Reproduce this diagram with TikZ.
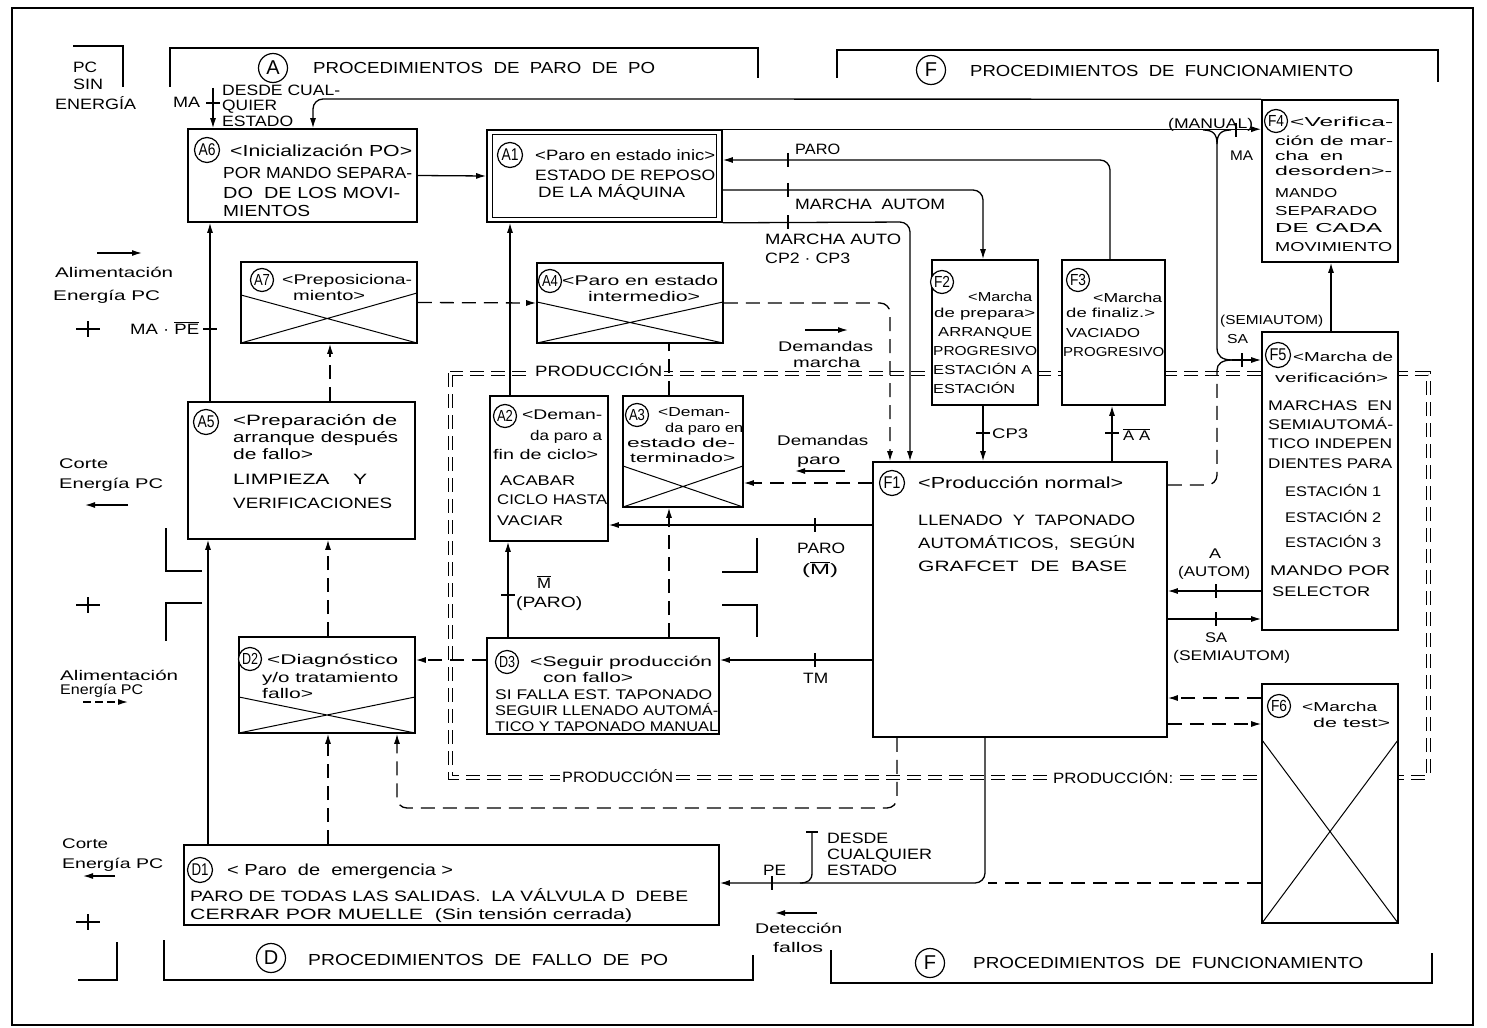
\documentclass[tikz,border=0pt]{standalone}
\usepackage{fontspec}
\setmainfont{Liberation Sans}
\usepackage{graphicx}
\usetikzlibrary{arrows.meta,fit}
\newcounter{tn}
\newcommand\tw[2]{\resizebox{#1pt}{\height}{#2}}
\newcommand\T[5]{\stepcounter{tn}\node[txt,font=\fontsize{#3}{#3}\selectfont] (t\arabic{tn}) at (#1,{#2+0.36*#3}) {\tw{#4}{#5}};}
\newcommand\PT[5]{\stepcounter{tn}\node[txt,fill=white,inner sep=2pt,font=\fontsize{#3}{#3}\selectfont] (t\arabic{tn}) at (#1,{#2+0.36*#3}) {\tw{#4}{#5}};}
\newcommand\C[6]{\node[circ,minimum size=#3pt,font=\fontsize{#4}{#4}\selectfont] (#5) at (#1,#2) {#6};}
\newcommand\tickv[2]{\draw[conn] (#1,#2-7) -- (#1,#2+7);}
\newcommand\tickh[2]{\draw[conn] (#1-7,#2) -- (#1+7,#2);}
\newcommand\plus[2]{\draw[brk] (#1-12,#2) -- (#1+12,#2) (#1,#2-8) -- (#1,#2+8);}
\tikzset{
 rect/.style={draw,line width=1.6pt,fill=white,inner sep=0pt},
 conn/.style={line width=1.3pt},
 arr/.style={-{Latex[length=10pt,width=6pt]}},
 dsh/.style={dash pattern=on 14pt off 8pt},
 txt/.style={inner sep=0pt,anchor=base west},
 circ/.style={draw,circle,line width=1.2pt,inner sep=0pt,fill=white},
 prod/.style={double,double distance=3pt,line width=1pt,dash pattern=on 14pt off 7pt},
 brk/.style={line width=1.5pt},
 crs/.style={line width=1pt},
}
\begin{document}
\begin{tikzpicture}[x=1pt,y=-1pt]
\useasboundingbox (0,0) rectangle (1487,1027);
\fill[white] (0,0) rectangle (1487,1027);
\draw[line width=1.5pt] (12,8) rectangle (1473,1025);

% brackets
\draw[brk] (170,87) -- (170,48) -- (758,48) -- (758,78);
\draw[brk] (837,78) -- (837,50) -- (1438,50) -- (1438,82);
\draw[brk] (73,46) -- (123,46) -- (123,87);
\draw[brk] (164,940) -- (164,980) -- (753,980) -- (753,955);
\draw[brk] (831,950) -- (831,983) -- (1432,983) -- (1432,953);
\draw[brk] (78,980) -- (117,980) -- (117,942);
\draw[brk] (166,528) -- (166,571) -- (202,571);
\draw[brk] (202,603) -- (166,603) -- (166,641);
\draw[brk] (757,538) -- (757,572) -- (722,572);
\draw[brk] (722,605) -- (757,605) -- (757,637);
\plus{88}{329}
\plus{88}{605}
\plus{88}{922}

% production zone
\draw[prod] (450,373) rectangle (1428,777);

% boxes
\node[rect,fit={(188,129) (417,222)}] (A6) {};
\node[rect,fit={(487,130) (722,222)}] (A1) {};
\draw[line width=1.2pt] ([shift={(6pt,-5pt)}]A1.north west) rectangle ([shift={(-6pt,5pt)}]A1.south east);
\node[rect,fit={(241,262) (417,343)}] (A7) {};
\node[rect,fit={(537,263) (723,343)}] (A4) {};
\node[rect,fit={(188,402) (415,539)}] (A5) {};
\node[rect,fit={(490,396) (608,541)}] (A2) {};
\node[rect,fit={(623,396) (743,507)}] (A3) {};
\node[rect,fit={(239,637) (415,733)}] (D2) {};
\node[rect,fit={(487,638) (719,734)}] (D3) {};
\node[rect,fit={(184,845) (719,925)}] (D1) {};
\node[rect,fit={(873,462) (1167,737)}] (F1) {};
\node[rect,fit={(932,260) (1038,405)}] (F2) {};
\node[rect,fit={(1062,260) (1165,405)}] (F3) {};
\node[rect,fit={(1262,100) (1398,262)}] (F4) {};
\node[rect,fit={(1262,332) (1398,630)}] (F5) {};
\node[rect,fit={(1262,684) (1398,923)}] (F6) {};

% crosses
\draw[crs] (241,295) -- (417,343) (241,343) -- (417,293);
\draw[crs] (537,302) -- (723,343) (537,343) -- (723,302);
\draw[crs] (623,466) -- (743,507) (623,507) -- (743,466);
\draw[crs] (239,697) -- (415,733) (239,733) -- (415,697);
\draw[crs] (1262,740) -- (1398,923) (1398,740) -- (1262,923);

% solid connectors
\draw[conn,arr] (A6.east) -- (A1.west);
\draw[conn,arr,rounded corners=10pt] (F4.north west) -- (313,99) -- (A6.north -| 313,0);
\coordinate (maS) at (213,88);
\draw[conn,arr] (maS) -- (A6.north -| maS);
\tickh{213}{103}
\draw[conn,arr] (A1.north east) -- (F4.west |- A1.north east);
\tickv{1236}{130}
\coordinate (fk) at (1217,144);
\coordinate (jn) at (1232,360);
\draw[conn] (1203,130) .. controls (1213,130) and (1217,134) .. (fk);
\draw[conn] (1231,130) .. controls (1221,130) and (1217,134) .. (fk);
\draw[conn] (fk) -- (1217,348) .. controls (1217,356) and (1222,360) .. (jn);
\draw[conn,arr] (jn) -- (F5.west |- jn);
\tickv{1242}{360}
\draw[conn,dsh,rounded corners=10pt] (F1.east |- 0,485) -- (1217,485) -- (1217,370);
\draw[conn] (1217,370) .. controls (1217,364) and (1222,360) .. (jn);
\draw[conn,arr,rounded corners=10pt] (F3.north -| 1110,0) -- (1110,160) -- (A1.east |- 0,160);
\tickv{788}{160}
\draw[conn,arr,rounded corners=10pt] (A1.east |- 0,190) -- (983,190) -- (F2.north -| 983,0);
\tickv{788}{190}
\draw[conn,arr,rounded corners=10pt] (A1.south east) -- (910,222) -- (F1.north -| 910,0);
\tickv{788}{222}
\draw[conn,arr] (F2.south -| 983,0) -- (F1.north -| 983,0);
\tickh{983}{433}
\draw[conn,arr] (F1.north -| 1112,0) -- (F3.south -| 1112,0);
\tickh{1112}{433}
\draw[conn,arr] (F5.north -| 1331,0) -- (F4.south -| 1331,0);
\draw[conn,arr] (F5.west |- 0,591) -- (F1.east |- 0,591);
\tickv{1216}{591}
\draw[conn,arr] (F1.east |- 0,619) -- (F5.west |- 0,619);
\tickv{1216}{619}
\draw[conn,arr] (A2.north -| 510,0) -- (A1.south -| 510,0);
\draw[conn,arr] (A5.north -| 210,0) -- (A6.south -| 210,0);
\tickh{210}{329}
\draw[conn,arr] (D1.north -| 208,0) -- (A5.south -| 208,0);
\draw[conn,arr] (D3.north -| 508,0) -- (A2.south -| 508,0);
\tickh{508}{595}
\draw[conn,arr] (F1.west |- 0,525) -- (A2.east |- 0,525);
\tickv{815}{525}
\draw[conn,arr] (F1.west |- 0,660) -- (D3.east |- 0,660);
\tickv{815}{660}
\draw[conn,arr,rounded corners=10pt] (F1.south -| 985,0) -- (985,883) -- (D1.east |- 0,883);
\tickv{772}{883}
\draw[conn,dsh] (F6.west |- 0,883) -- (988,883);
\coordinate (dc) at (812,832);
\draw[conn] (dc) -- (812,873) .. controls (812,880) and (808,883) .. (800,883);
\draw[conn] (806,832) -- (818,832);

% dashed connectors
\draw[conn,dsh,arr] (A5.north -| 330,0) -- (A7.south -| 330,0);
\draw[conn,dsh,arr] (D2.north -| 328,0) -- (A5.south -| 328,0);
\draw[conn,dsh,arr] (D1.north -| 328,0) -- (D2.south -| 328,0);
\draw[conn,dsh,arr] (A7.east) -- (A4.west);
\draw[conn,dsh,arr,rounded corners=10pt] (A4.east) -- (890,303) -- (F1.north -| 890,0);
\draw[conn,dsh] (A3.north -| 669,0) -- (A4.south -| 669,0);
\draw[conn,dsh,arr] (D3.north -| 669,0) -- (A3.south -| 669,0);
\draw[conn,dsh,arr] (F1.west |- 0,483) -- (A3.east |- 0,483);
\draw[conn,dsh,arr] (D3.west |- 0,660) -- (D2.east |- 0,660);
\draw[conn,dsh,arr,rounded corners=10pt] (F1.south -| 897,0) -- (897,808) -- (397,808) -- (D2.south -| 397,0);
\draw[conn,dsh,arr] (F6.west |- 0,698) -- (F1.east |- 0,698);
\draw[conn,dsh,arr] (F1.east |- 0,724) -- (F6.west |- 0,724);

% margin arrows
\draw[conn,arr] (97,253) -- (142,253);
\draw[conn,arr] (128,505) -- (85,505);
\draw[conn,dsh,arr,dash pattern=on 8pt off 4pt] (83,702) -- (128,702);
\draw[conn,arr] (115,876) -- (83,876);
\draw[conn,arr] (805,330) -- (848,330);
\draw[conn,arr] (845,471) -- (795,471);
\draw[conn,arr] (817,913) -- (775,913);

% circles
\C{273}{68}{29}{20}{cA}{A}
\C{931}{70}{29}{20}{cFt}{F}
\C{271}{958}{29}{20}{cD}{D}
\C{930}{963}{29}{20}{cFb}{F}
\C{207}{150}{25}{17}{cA6}{\tw{17}{A6}}
\C{510}{155}{25}{17}{cA1}{\tw{17}{A1}}
\C{1276}{121}{23}{16}{cF4}{\tw{16}{F4}}
\C{262}{280}{23}{16}{cA7}{\tw{16}{A7}}
\C{550}{281}{23}{16}{cA4}{\tw{16}{A4}}
\C{206}{422}{25}{17}{cA5}{\tw{17}{A5}}
\C{505}{416}{23}{16}{cA2}{\tw{16}{A2}}
\C{637}{415}{23}{16}{cA3}{\tw{16}{A3}}
\C{942}{282}{23}{16}{cF2}{\tw{16}{F2}}
\C{1078}{280}{23}{16}{cF3}{\tw{16}{F3}}
\C{892}{483}{25}{17}{cF1}{\tw{17}{F1}}
\C{1278}{355}{25}{17}{cF5}{\tw{17}{F5}}
\C{1279}{706}{23}{16}{cF6}{\tw{16}{F6}}
\C{250}{659}{23}{16}{cD2}{\tw{16}{D2}}
\C{507}{662}{23}{16}{cD3}{\tw{16}{D3}}
\C{200}{870}{25}{17}{cD1}{\tw{17}{D1}}

% texts
\T{313}{68}{16}{342}{PROCEDIMIENTOS~ DE~ PARO~ DE~ PO}
\T{970}{71}{16}{383}{PROCEDIMIENTOS~ DE~ FUNCIONAMIENTO}
\T{308}{960}{16}{360}{PROCEDIMIENTOS~ DE~ FALLO~ DE~ PO}
\T{973}{963}{16}{390}{PROCEDIMIENTOS~ DE~ FUNCIONAMIENTO}
\T{73}{67}{15}{24}{PC}
\T{73}{84}{15}{30}{SIN}
\T{55}{104}{15}{81}{ENERGÍA}
\T{173}{102}{15}{27}{MA}
\T{222}{90}{15}{118}{DESDE CUAL-}
\T{222}{105}{15}{55}{QUIER}
\T{222}{121}{15}{71}{ESTADO}
\T{230}{151}{16}{182}{<Inicialización PO>}
\T{223}{173}{16}{189}{POR MANDO SEPARA-}
\T{223}{193}{16}{177}{DO~ DE LOS MOVI-}
\T{223}{211}{16}{87}{MIENTOS}
\T{535}{155}{15}{180}{<Paro en estado inic>}
\T{535}{175}{15}{180}{ESTADO DE REPOSO}
\T{538}{192}{15}{147}{DE LA MÁQUINA}
\T{795}{149}{15}{45}{PARO}
\T{795}{204}{15}{150}{MARCHA~ AUTOM}
\T{765}{239}{15}{136}{MARCHA AUTO}
\T{765}{258}{15}{85}{CP2 · CP3}
\T{1168}{123}{14}{85}{(MANUAL)}
\T{1230}{155}{14}{23}{MA}
\T{1290}{122}{13}{103}{<Verifica-}
\T{1275}{141}{13}{118}{ción de mar-}
\T{1275}{156}{13}{68}{cha~ en}
\T{1275}{171}{13}{117}{desorden>-}
\T{1275}{193}{13}{62}{MANDO}
\T{1275}{211}{13}{102}{SEPARADO}
\T{1275}{228}{13}{107}{DE CADA}
\T{1275}{247}{13}{117}{MOVIMIENTO}
\T{55}{272}{14}{118}{Alimentación}
\T{53}{295}{14}{107}{Energía PC}
\T{130}{329}{15}{69}{MA · $\overline{\mbox{PE}}$}
\T{59}{463}{14}{49}{Corte}
\T{59}{483}{14}{104}{Energía PC}
\T{282}{279}{14}{130}{<Preposiciona-}
\T{293}{295}{14}{72}{miento>}
\T{562}{280}{14}{156}{<Paro en estado}
\T{588}{296}{14}{112}{intermedio>}
\T{778}{346}{14}{95}{Demandas}
\T{793}{362}{14}{67}{marcha}
\PT{533}{371}{15}{127}{PRODUCCIÓN}
\PT{560}{777}{15}{111}{PRODUCCIÓN}
\PT{1051}{778}{15}{120}{PRODUCCIÓN:}
\T{233}{420}{15}{164}{<Preparación de}
\T{233}{437}{15}{165}{arranque después}
\T{233}{454}{15}{80}{de fallo>}
\T{233}{479}{15}{134}{LIMPIEZA~~~ Y}
\T{233}{503}{15}{159}{VERIFICACIONES}
\T{522}{414}{14}{80}{<Deman-}
\T{530}{435}{14}{72}{da paro a}
\T{493}{454}{14}{105}{fin de ciclo>}
\T{500}{480}{14}{75}{ACABAR}
\T{497}{499}{14}{110}{CICLO HASTA}
\T{497}{520}{14}{66}{VACIAR}
\T{658}{412}{13}{72}{<Deman-}
\T{665}{428}{13}{78}{da paro en}
\T{627}{443}{13}{108}{estado de-}
\T{630}{458}{13}{105}{terminado>}
\T{777}{440}{14}{91}{Demandas}
\T{797}{459}{14}{43}{paro}
\T{968}{297}{13}{64}{<Marcha}
\T{934}{313}{13}{101}{de prepara>}
\T{938}{332}{13}{94}{ARRANQUE}
\T{933}{351}{13}{104}{PROGRESIVO}
\T{933}{370}{13}{99}{ESTACIÓN A}
\T{933}{389}{13}{82}{ESTACIÓN}
\T{1093}{298}{13}{69}{<Marcha}
\T{1066}{313}{13}{89}{de finaliz.>}
\T{1066}{333}{13}{74}{VACIADO}
\T{1063}{352}{13}{101}{PROGRESIVO}
\T{992}{433}{14}{36}{CP3}
\T{1123}{435}{14}{27}{$\overline{\mbox{A A}}$}
\T{918}{483}{16}{205}{<Producción normal>}
\T{918}{520}{15}{217}{LLENADO~ Y~ TAPONADO}
\T{918}{543}{15}{217}{AUTOMÁTICOS,~ SEGÚN}
\T{918}{566}{15}{209}{GRAFCET~ DE~ BASE}
\T{1293}{357}{13}{100}{<Marcha de}
\T{1275}{378}{13}{113}{verificación>}
\T{1268}{405}{14}{124}{MARCHAS~ EN}
\T{1268}{424}{14}{125}{SEMIAUTOMÁ-}
\T{1268}{443}{14}{124}{TICO INDEPEN}
\T{1268}{463}{14}{124}{DIENTES PARA}
\T{1285}{491}{14}{96}{ESTACIÓN 1}
\T{1285}{517}{14}{96}{ESTACIÓN 2}
\T{1285}{542}{14}{96}{ESTACIÓN 3}
\T{1270}{570}{14}{120}{MANDO POR}
\T{1272}{591}{14}{98}{SELECTOR}
\T{1220}{320}{13}{103}{(SEMIAUTOM)}
\T{1227}{339}{13}{21}{SA}
\T{1209}{553}{14}{12}{A}
\T{1178}{571}{14}{72}{(AUTOM)}
\T{1205}{637}{14}{22}{SA}
\T{1173}{655}{14}{117}{(SEMIAUTOM)}
\T{1302}{707}{13}{75}{<Marcha}
\T{1313}{723}{13}{77}{de test>}
\T{267}{659}{14}{131}{<Diagnóstico}
\T{262}{677}{14}{136}{y/o tratamiento}
\T{262}{693}{14}{51}{fallo>}
\T{60}{675}{14}{118}{Alimentación}
\T{60}{689}{14}{83}{Energía PC}
\T{530}{661}{14}{182}{<Seguir producción}
\T{543}{677}{14}{90}{con fallo>}
\T{495}{694}{14}{217}{SI FALLA EST. TAPONADO}
\T{495}{710}{14}{223}{SEGUIR LLENADO AUTOMÁ-}
\T{495}{726}{14}{223}{TICO Y TAPONADO MANUAL}
\T{797}{548}{15}{48}{PARO}
\T{802}{569}{15}{36}{($\overline{\mbox{M}}$)}
\T{803}{678}{15}{25}{TM}
\T{537}{583}{15}{14}{$\overline{\mbox{M}}$}
\T{516}{602}{15}{66}{(PARO)}
\T{62}{843}{14}{46}{Corte}
\T{62}{863}{14}{101}{Energía PC}
\T{227}{870}{16}{226}{<~Paro~ de~ emergencia~>}
\T{190}{896}{15}{498}{PARO DE TODAS LAS SALIDAS.~ LA VÁLVULA D~ DEBE}
\T{190}{914}{15}{442}{CERRAR POR MUELLE~ (Sin tensión cerrada)}
\T{763}{870}{15}{23}{PE}
\T{827}{838}{15}{61}{DESDE}
\T{827}{854}{15}{105}{CUALQUIER}
\T{827}{870}{15}{70}{ESTADO}
\T{755}{928}{14}{87}{Detección}
\T{773}{947}{14}{50}{fallos}
\end{tikzpicture}
\end{document}
